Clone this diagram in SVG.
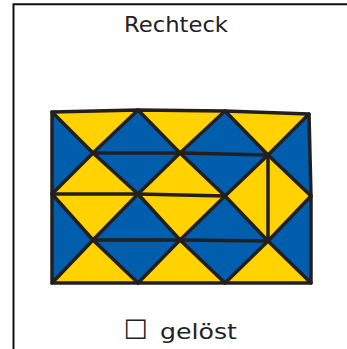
<svg xmlns="http://www.w3.org/2000/svg" width="347" height="349" viewBox="0 0 347 349">
<style>
.y{fill:#ffd200}
.b{fill:#005ead}
.ln{fill:none;stroke:#231f20;stroke-width:3.5;stroke-linejoin:round;stroke-linecap:round}
.t{font-family:"DejaVu Sans",sans-serif;font-size:22px;fill:#222}
</style>
<rect width="347" height="349" fill="#fff"/>
<path d="M13.5,349 V4.3 H347" fill="none" stroke="#111" stroke-width="2"/>
<g id="title"><text class="t" x="124" y="31.7" font-size="23" textLength="104" lengthAdjust="spacingAndGlyphs">Rechteck</text></g>
<g id="puzzle">
<g id="yellow">
<polygon class="y" points="52,112 138,110 93,153"/>
<polygon class="y" points="52,194 138,194 93,153"/>
<polygon class="y" points="138,110 225,111 180,153"/>
<polygon class="y" points="138,194 225,196 180,153"/>
<polygon class="y" points="225,111 309,114 268,155"/>
<polygon class="y" points="268,155 225,196 268,241"/>
<polygon class="y" points="268,155 311,196 268,241"/>
<polygon class="y" points="52,194 138,194 93,240"/>
<polygon class="y" points="52,283 138,283 93,240"/>
<polygon class="y" points="138,194 225,196 180,240"/>
<polygon class="y" points="138,283 225,283 180,240"/>
<polygon class="y" points="225,283 311,283 268,241"/>
</g>
<g id="blue">
<polygon class="b" points="52,112 93,153 52,194"/>
<polygon class="b" points="93,153 138,110 180,153"/>
<polygon class="b" points="93,153 180,153 138,194"/>
<polygon class="b" points="180,153 225,111 268,155"/>
<polygon class="b" points="180,153 268,155 225,196"/>
<polygon class="b" points="309,114 268,155 311,196"/>
<polygon class="b" points="52,194 93,240 52,283"/>
<polygon class="b" points="93,240 138,194 180,240"/>
<polygon class="b" points="93,240 180,240 138,283"/>
<polygon class="b" points="180,240 225,196 268,241"/>
<polygon class="b" points="180,240 268,241 225,283"/>
<polygon class="b" points="311,196 268,241 311,283"/>
</g>
<g id="lines" class="ln">
<polygon points="52,112 138,110 225,111 309,114 311,196 311,283 225,283 138,283 52,283 52,194"/>
<polyline points="52,194 138,194 225,196"/>
<polyline points="93,153 180,153 268,155"/>
<polyline points="93,240 180,240 268,241"/>
<polyline points="268,155 268,241"/>
<polyline points="52,112 93,153 138,194 180,240 225,283"/>
<polyline points="138,110 180,153 225,196 268,241 311,283"/>
<polyline points="225,111 268,155 311,196"/>
<polyline points="52,194 93,240 138,283"/>
<polyline points="52,194 93,153 138,110"/>
<polyline points="52,283 93,240 138,194 180,153 225,111"/>
<polyline points="138,283 180,240 225,196 268,155 309,114"/>
<polyline points="225,283 268,241 311,196"/>
</g>
</g>
<g id="status"><text class="t" y="339.3"><tspan x="123.5" font-size="27">☐</tspan><tspan x="160" textLength="77" lengthAdjust="spacingAndGlyphs">gelöst</tspan></text></g>
</svg>
